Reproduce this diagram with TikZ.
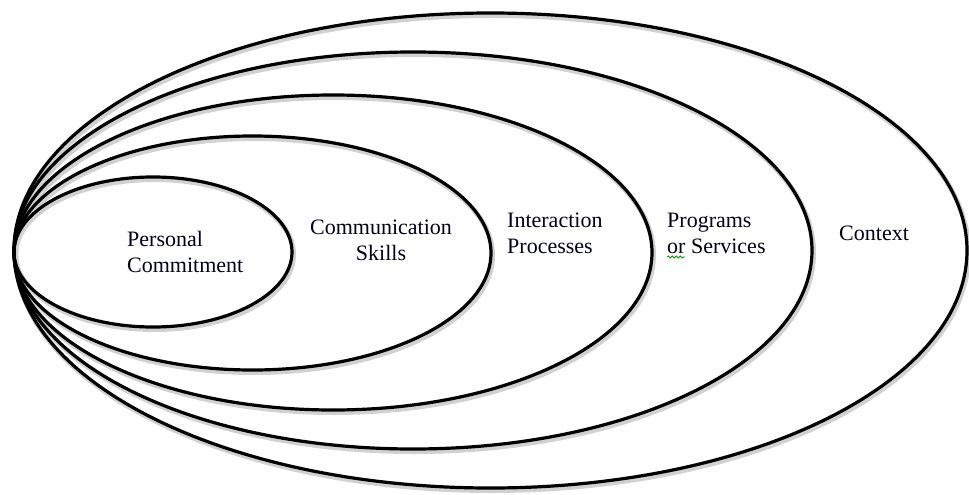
\documentclass[tikz,border=0pt]{standalone}
\usepackage{fontspec}
\setmainfont{Liberation Serif}
\usetikzlibrary{decorations.pathmorphing}
\begin{document}
\begin{tikzpicture}[x=1pt,y=-1pt,
  ring/.style={draw=black,line width=3.2pt},
  ringshadow/.style={draw=black!18,line width=5pt,shift={(1.5,2.5)}},
  lbl/.style={font=\fontsize{22}{26}\selectfont,inner sep=0pt,text=black!90!blue},
  spell/.style={draw=green!60!black,line width=0.8pt,decorate,decoration={snake,amplitude=1.1pt,segment length=4pt}}]
\useasboundingbox (0,0) rectangle (969,495);
% shadows
\draw[ringshadow] (490.5,250.5) ellipse [x radius=476.5, y radius=237.5];
\draw[ringshadow] (413,250.5) ellipse [x radius=399, y radius=198.5];
\draw[ringshadow] (333,252.5) ellipse [x radius=319, y radius=157.5];
\draw[ringshadow] (252.5,253) ellipse [x radius=238.5, y radius=117];
\draw[ringshadow] (153,252) ellipse [x radius=139, y radius=75];
% rings
\draw[ring] (490.5,250.5) ellipse [x radius=476.5, y radius=237.5];
\draw[ring] (413,250.5) ellipse [x radius=399, y radius=198.5];
\draw[ring] (333,252.5) ellipse [x radius=319, y radius=157.5];
\draw[ring] (252.5,253) ellipse [x radius=238.5, y radius=117];
\draw[ring] (153,252) ellipse [x radius=139, y radius=75];
% labels
\node[lbl,anchor=west,align=left] (pc) at (127,252) {Personal\\Commitment};
\node[lbl,align=center] (cs) at (381,240) {Communication\\Skills};
\node[lbl,anchor=west,align=left] (ip) at (507,233) {Interaction\\Processes};
\node[lbl,anchor=west,align=left] (ps) at (667,233.5) {Programs\\or Services};
\node[lbl,anchor=west] (cx) at (839,233) {Context};
\coordinate (sq1) at (667,257);
\coordinate (sq2) at (685,257);
\draw[spell] (sq1) -- (sq2);
\end{tikzpicture}
\end{document}
